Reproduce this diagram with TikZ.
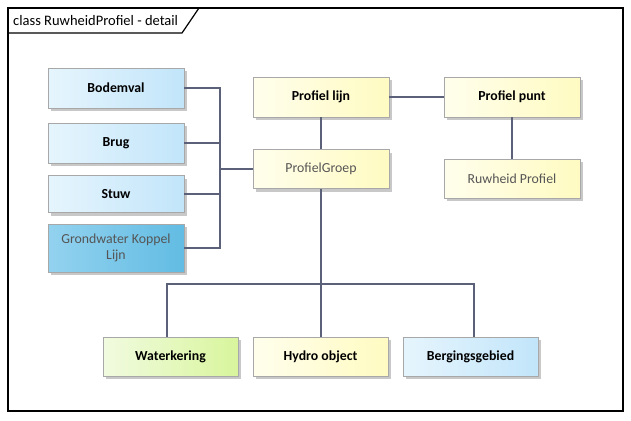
\documentclass[tikz,border=0pt]{standalone}
\usepackage{fontspec}
\setmainfont{Carlito}
\usetikzlibrary{shadows}
\definecolor{linec}{HTML}{5A6178}
\definecolor{bordc}{HTML}{A8A8A8}
\definecolor{shadc}{HTML}{C8C8C8}
\definecolor{blueL}{HTML}{E6F5FD}
\definecolor{blueR}{HTML}{C2E5FA}
\definecolor{dblueL}{HTML}{93D2EF}
\definecolor{dblueR}{HTML}{62BCE3}
\definecolor{yelL}{HTML}{FFFEEC}
\definecolor{yelR}{HTML}{FFFBC2}
\definecolor{grnL}{HTML}{F1FBE0}
\definecolor{grnR}{HTML}{D8F59C}
\definecolor{greytext}{HTML}{555555}
\tikzset{
  box/.style={draw=bordc, line width=0.8pt, minimum width=136pt, minimum height=40pt,
    shading=axis, shading angle=90, inner sep=1pt, align=center,
    font=\fontsize{13.8}{16}\selectfont\bfseries,
    drop shadow={shadow xshift=3pt, shadow yshift=-3pt, fill=shadc, opacity=1}},
  bluebox/.style={box, left color=blueL, right color=blueR},
  dbluebox/.style={box, left color=dblueL, right color=dblueR, text=greytext},
  yelbox/.style={box, left color=yelL, right color=yelR},
  grnbox/.style={box, left color=grnL, right color=grnR},
  plain/.style={font=\fontsize{13.8}{16}\selectfont\mdseries, text=greytext},
  conn/.style={draw=linec, line width=1.2pt},
}
\begin{document}
\begin{tikzpicture}[x=1pt,y=-1pt]
\useasboundingbox (0,0) rectangle (631,420);
\fill[white] (0,0) rectangle (631,420);
% frame
\draw[line width=1.2pt] (8,8) rectangle (623,411);
\draw[line width=1.2pt] (8,33) -- (182,33) -- (199,8);
\node[anchor=west, font=\fontsize{14.5}{16}\selectfont, inner sep=0pt] (title) at (13,20.5) {class RuwheidProfiel - detail};
% nodes
\node[bluebox] (bodemval) at (116,88) {Bodemval};
\node[bluebox] (brug) at (116,143) {Brug};
\node[bluebox, minimum height=37pt] (stuw) at (116,194) {Stuw};
\node[dbluebox, minimum height=48pt, plain, text=greytext] (grond) at (116,248) {\fontsize{13.8}{20}\selectfont Grondwater Koppel\\Lijn};
\node[yelbox] (plijn) at (321,97) {Profiel lijn};
\node[yelbox] (ppunt) at (512,97) {Profiel punt};
\node[yelbox, minimum height=39pt, plain] (pgroep) at (321,169) {ProfielGroep};
\node[yelbox, minimum height=39pt, plain] (ruw) at (512,178.5) {Ruwheid Profiel};
\node[grnbox, minimum width=135pt, minimum height=39pt] (wk) at (170.5,356.5) {Waterkering};
\node[yelbox, minimum width=135pt, minimum height=39pt] (hydro) at (320.5,356.5) {Hydro object};
\node[bluebox, minimum width=135pt, minimum height=39pt] (berg) at (470.5,356.5) {Bergingsgebied};
% connectors
\coordinate (busL) at (220,169);
\coordinate (busB) at (321,284);
\draw[conn] (bodemval.east) -| (busL);
\draw[conn] (brug.east) -| (busL);
\draw[conn] (stuw.east) -| (busL);
\draw[conn] (grond.east) -| (busL);
\draw[conn] (busL) -- (pgroep.west);
\draw[conn] (plijn.east) -- (ppunt.west);
\draw[conn] (plijn.south) -- (pgroep.north);
\draw[conn] (ppunt.south) -- (ruw.north);
\draw[conn] (pgroep.south) -- (busB) -- (busB |- hydro.north);
\draw[conn] (busB) -| ([xshift=-3.5pt]wk.north);
\draw[conn] (busB) -| ([xshift=3.5pt]berg.north);
\end{tikzpicture}
\end{document}
